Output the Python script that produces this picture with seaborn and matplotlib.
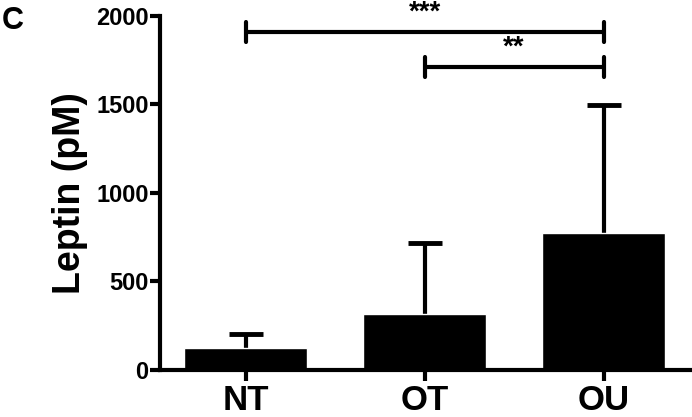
import numpy as np
import pandas as pd
import matplotlib
matplotlib.use("Agg")
import matplotlib.pyplot as plt
import seaborn as sns

# data
groups = ["NT", "OT", "OU"]
leptin_mean = [124, 318, 774]
leptin_sd = [80, 400, 724]

# significance brackets: (left group, right group, height, label)
brackets = [("NT", "OU", 1910, "***"), ("OT", "OU", 1710, "**")]

df = pd.DataFrame({"group": groups, "leptin": leptin_mean})

sns.set_style("ticks")
plt.rcParams["font.family"] = ["Liberation Sans", "DejaVu Sans"]
plt.rcParams["font.weight"] = "bold"
plt.rcParams["text.color"] = "black"
plt.rcParams["axes.labelcolor"] = "black"
plt.rcParams["xtick.color"] = "black"
plt.rcParams["ytick.color"] = "black"
plt.rcParams["axes.edgecolor"] = "black"

fig = plt.figure(figsize=(6.92, 4.17), dpi=100)
ax = fig.add_axes([0.231, 0.113, 0.768, 0.849])

sns.barplot(data=df, x="group", y="leptin", color="black", width=0.69,
            errorbar=None, saturation=1, ax=ax, zorder=2)

# upper-only error bars (drawn behind the bars)
pos = np.arange(len(groups))
_, caps, _ = ax.errorbar(pos, leptin_mean, yerr=[np.zeros(len(groups)), leptin_sd],
                         fmt="none", ecolor="black", elinewidth=3, capsize=12,
                         capthick=3.5, zorder=1)
# hide the lower caps (they sit on the bar tops)
for c in caps:
    if np.allclose(c.get_ydata(), leptin_mean):
        c.set_visible(False)

# brackets
for left, right, h, lab in brackets:
    x1, x2 = groups.index(left), groups.index(right)
    ax.plot([x1, x2], [h, h], color="black", lw=3, solid_capstyle="butt")
    for xx in (x1, x2):
        ax.plot([xx, xx], [h - 55, h + 55], color="black", lw=3, solid_capstyle="round")
    ax.text((x1 + x2) / 2, h + 35, lab, ha="center", va="bottom",
            fontsize=20, fontweight="bold")

ax.set_ylim(0, 2000)
ax.set_xlim(-0.48, 2.49)
ax.set_yticks([0, 500, 1000, 1500, 2000])
ax.set_xlabel("")
ax.set_ylabel("Leptin (pM)", fontsize=27, fontweight="bold", labelpad=6)
ax.tick_params(axis="y", labelsize=17, width=3, length=7, pad=1)
ax.tick_params(axis="x", labelsize=25, width=3, length=8, pad=2)
for lab in ax.get_xticklabels() + ax.get_yticklabels():
    lab.set_fontweight("bold")
sns.despine(ax=ax)
ax.spines["left"].set_linewidth(3)
ax.spines["bottom"].set_linewidth(3)

fig.text(0.002, 0.985, "C", fontsize=22, fontweight="bold", va="top", ha="left")

fig.savefig("out.png", dpi=100)
